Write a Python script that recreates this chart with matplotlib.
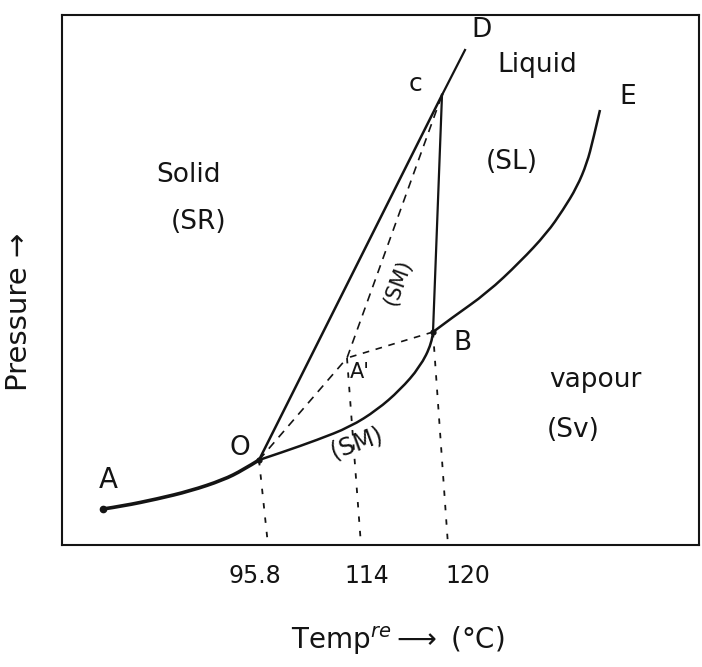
import matplotlib
matplotlib.use("Agg")
import matplotlib.pyplot as plt
from matplotlib.path import Path
from matplotlib.patches import PathPatch

plt.rcParams['font.family'] = ['DejaVu Sans']

# schematic units: x = temperature direction, y = pressure direction
# curve A-O (rhombic sulphur / vapour)
ao_x = [41, 61, 95, 128, 161, 181, 197]
ao_y = [36, 39, 46, 54, 65, 75, 85]
# curve O-B (monoclinic sulphur / vapour)
ob_x = [197, 221, 255, 288, 315, 338, 358, 370, 371]
ob_y = [85, 93, 105, 118, 135, 155, 178, 202, 213]
# curve B-E (liquid / vapour)
be_x = [371, 391, 425, 458, 485, 501, 515, 525, 531, 538]
be_y = [213, 228, 252, 283, 312, 335, 358, 382, 405, 435]
# line O-C (rhombic / monoclinic)
oc_x = [197, 380]
oc_y = [85, 450]
# line C-D and C-B
cd_x = [380, 403]
cd_y = [450, 495]
cb_x = [380, 371]
cb_y = [450, 213]
# metastable dashed lines O-A'-C and B-A'
oac_x = [197, 285, 380]
oac_y = [85, 187, 450]
ba_x = [371, 285]
ba_y = [213, 187]
# drop lines to the temperature axis
drop_top_x = [197, 285, 371]
drop_top_y = [85, 187, 213]
drop_bot_x = [206, 299, 386]

tick_pos = [193, 305, 406]
tick_labels = ["95.8", "114", "120"]

ink = '#141414'


def smooth_curve(ax, xs, ys, **kw):
    # quadratic bezier through the midpoints, the read points act as controls
    pts = list(zip(xs, ys))
    verts = [pts[0]]
    codes = [Path.MOVETO]
    for i in range(1, len(pts) - 1):
        mid = ((pts[i][0] + pts[i + 1][0]) / 2, (pts[i][1] + pts[i + 1][1]) / 2)
        if i == len(pts) - 2:
            mid = pts[-1]
        verts += [pts[i], mid]
        codes += [Path.CURVE3, Path.CURVE3]
    ax.add_patch(PathPatch(Path(verts, codes), fill=False, **kw))


fig = plt.figure(figsize=(7.02, 6.67), dpi=100)
ax = fig.add_axes([62 / 702, 122 / 667, 637 / 702, 530 / 667])
ax.set_xlim(0, 637)
ax.set_ylim(0, 530)

for s in ax.spines.values():
    s.set_linewidth(1.5)
    s.set_color(ink)

# solid lines
smooth_curve(ax, ao_x, ao_y, edgecolor=ink, lw=2.6, capstyle='round')
smooth_curve(ax, ob_x, ob_y, edgecolor=ink, lw=1.8)
smooth_curve(ax, be_x, be_y, edgecolor=ink, lw=1.8)
ax.plot(oc_x, oc_y, color=ink, lw=1.8)
ax.plot(cd_x, cd_y, color=ink, lw=1.6)
ax.plot(cb_x, cb_y, color=ink, lw=1.6)

# dashed lines
ax.plot(oac_x, oac_y, color=ink, lw=1.2, dashes=(5, 4))
ax.plot(ba_x, ba_y, color=ink, lw=1.2, dashes=(4, 4))
for xt, yt, xb in zip(drop_top_x, drop_top_y, drop_bot_x):
    ax.plot([xt, xb], [yt, 0], color=ink, lw=1.3, dashes=(3, 5))

# points
ax.plot([ao_x[0]], [ao_y[0]], 'o', color=ink, ms=4.5)
ax.plot([ao_x[-1], ob_x[-1]], [ao_y[-1], ob_y[-1]], 'o', color=ink, ms=3.5)

fs = 19
ax.text(46, 65, "A", fontsize=20, ha='center', va='center', color=ink)
ax.text(178, 97, "O", fontsize=19, ha='center', va='center', color=ink)
ax.text(298, 173, "A'", fontsize=15, ha='center', va='center', color=ink)
ax.text(400, 202, "B", fontsize=19, ha='center', va='center', color=ink)
ax.text(354, 461, "c", fontsize=18, ha='center', va='center', color=ink)
ax.text(420, 515, "D", fontsize=19, ha='center', va='center', color=ink)
ax.text(566, 448, "E", fontsize=19, ha='center', va='center', color=ink)

ax.text(475, 480, "Liquid", fontsize=fs, ha='center', va='center', color=ink)
ax.text(126, 370, "Solid", fontsize=fs, ha='center', va='center', color=ink)
ax.text(137, 323, "(SR)", fontsize=fs, ha='center', va='center', color=ink)
ax.text(450, 383, "(SL)", fontsize=fs, ha='center', va='center', color=ink)
ax.text(336, 262, "(SM)", fontsize=15, ha='center', va='center',
        rotation=70, color=ink)
ax.text(295, 102, "(SM)", fontsize=17, ha='center', va='center',
        rotation=20, color=ink)
ax.text(533, 165, "vapour", fontsize=fs, ha='center', va='center', color=ink)
ax.text(511, 115, "(Sv)", fontsize=fs, ha='center', va='center', color=ink)

ax.set_xticks(tick_pos)
ax.set_xticklabels(tick_labels, fontsize=17, color=ink)
ax.tick_params(axis='x', length=0, pad=14)
ax.set_yticks([])

ax.set_xlabel(r"Temp$^{re}$$\longrightarrow$ (°C)", fontsize=20, color=ink)
ax.xaxis.set_label_coords(0.527, -0.15)
ax.set_ylabel("Pressure \u2192", fontsize=21, color=ink)
ax.yaxis.set_label_coords(-0.045, 0.44)

fig.savefig("out.png", dpi=100, facecolor='white')
